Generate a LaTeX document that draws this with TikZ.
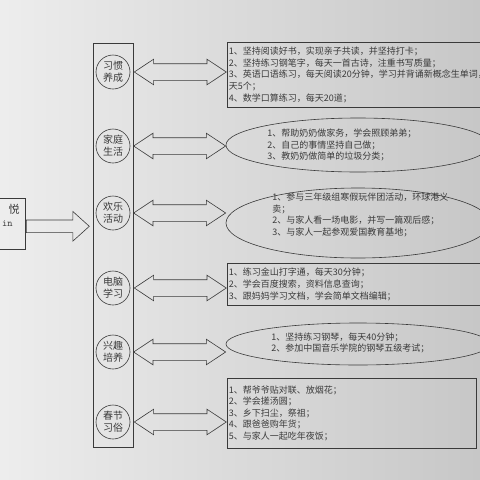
\documentclass[tikz,border=0pt]{standalone}
\usepackage{fontspec}
\setmainfont{Noto Sans CJK SC}
\usetikzlibrary{shapes.geometric,shapes.arrows,calc}

\definecolor{ink}{HTML}{3A3A3A}
\tikzset{
  topic/.style={draw=ink, circle, minimum size=34pt, inner sep=0pt, align=center,
    text=ink, font=\fontsize{10}{12}\selectfont},
  planbox/.style={draw=ink, rectangle, anchor=north west, align=left, inner sep=1.5pt,
    text=ink, font=\fontsize{9}{11.6}\selectfont},
  planoval/.style={draw=ink, ellipse, inner sep=0pt},
  plantext/.style={anchor=west, align=left, inner sep=0pt, text=ink,
    font=\fontsize{9}{11.4}\selectfont},
  twoway/.style={draw=ink, double arrow, double arrow head extend=4.5pt,
    double arrow tip angle=67, inner xsep=0pt, inner ysep=8pt, minimum height=92pt},
  oneway/.style={draw=ink, single arrow, single arrow head extend=8.5pt,
    single arrow tip angle=84, inner xsep=0pt, inner ysep=6pt, minimum height=63pt}
}

\begin{document}
\begin{tikzpicture}[x=1pt,y=-1pt,line width=0.6pt]
  \shade[left color=black!7, right color=black!22] (0,0) rectangle (480,480);
  \useasboundingbox (0,0) rectangle (480,480);

  % left box (cut off by the page edge)
  \node[draw=ink, minimum width=40pt, minimum height=51pt, anchor=north east, inner sep=0pt] (kid) at (26,198) {};
  \node[anchor=east, inner sep=0pt, text=ink, font=\fontsize{11}{12}\selectfont] (kidcn) at (20,209) {悦};
  \node[anchor=east, inner sep=0pt, text=ink, font=\ttfamily\fontsize{10}{12}\selectfont] (kiden) at (13,223) {in};
  \node[oneway, anchor=tail] (go) at ([yshift=-2.5pt]kid.east) {};

  % column of topics
  \node[draw=ink, minimum width=40pt, minimum height=404pt, anchor=north west, inner sep=0pt] (col) at (93,43) {};
  \node[topic] (hab)    at (113,72)  {习惯\\养成};
  \node[topic] (fam)    at (113,146) {家庭\\生活};
  \node[topic] (fun)    at (113,213) {欢乐\\活动};
  \node[topic] (pc)     at (113,288) {电脑\\学习};
  \node[topic] (hobby)  at (113,352) {兴趣\\培养};
  \node[topic] (spring) at (113,422) {春节\\习俗};

  % plans
  \node[planbox, text width=252pt, minimum height=65pt] (habbox) at (227,42)
  {1、坚持阅读好书，实现亲子共读，并坚持打卡；\\
   2、坚持练习钢笔字，每天一首古诗，注重书写质量；\\
   3、英语口语练习，每天阅读20分钟，学习并背诵新概念生单词，每\\
   天5个；\\
   4、数学口算练习，每天20道；};

  \node[planoval, minimum width=264pt, minimum height=54pt] (famoval) at (358,145) {};
  \node[plantext] (famtext) at (267,145)
  {1、帮助奶奶做家务，学会照顾弟弟；\\
   2、自己的事情坚持自己做；\\
   3、教奶奶做简单的垃圾分类；};

  \node[planoval, minimum width=264pt, minimum height=70pt] (funoval) at (358,223) {};
  \node[plantext] (funtext) at (272,215)
  {1、参与三年级组寒假玩伴团活动，环球港义\\
   卖；\\
   2、与家人看一场电影，并写一篇观后感；\\
   3、与家人一起参观爱国教育基地；};

  \node[planbox, text width=252pt, minimum height=42pt] (pcbox) at (227,263)
  {1、练习金山打字通，每天30分钟；\\
   2、学会百度搜索，资料信息查询；\\
   3、跟妈妈学习文档，学会简单文档编辑；};

  \node[planoval, minimum width=264pt, minimum height=42pt] (hobbyoval) at (358,344) {};
  \node[plantext] (hobbytext) at (271,343)
  {1、坚持练习钢琴，每天40分钟；\\
   2、参加中国音乐学院的钢琴五级考试；};

  \node[planbox, text width=246pt, minimum height=70pt] (springbox) at (227,378)
  {1、帮爷爷贴对联、放烟花；\\
   2、学会搓汤圆；\\
   3、乡下扫尘，祭祖；\\
   4、跟爸爸购年货；\\
   5、与家人一起吃年夜饭；};

  % two-way arrows
  \node[twoway] (hablink)    at ($(col.east |- hab)!0.5!(habbox.west |- hab)$) {};
  \node[twoway] (famlink)    at ($(col.east |- fam)!0.5!(famoval.west |- fam)$) {};
  \node[twoway] (funlink)    at ($(col.east |- fun)!0.5!(funoval.west |- fun)$) {};
  \node[twoway] (pclink)     at ($(col.east |- pc)!0.5!(pcbox.west |- pc)$) {};
  \node[twoway] (hobbylink)  at ($(col.east |- hobby)!0.5!(hobbyoval.west |- hobby)$) {};
  \node[twoway] (springlink) at ($(col.east |- spring)!0.5!(springbox.west |- spring)$) {};
\end{tikzpicture}
\end{document}
